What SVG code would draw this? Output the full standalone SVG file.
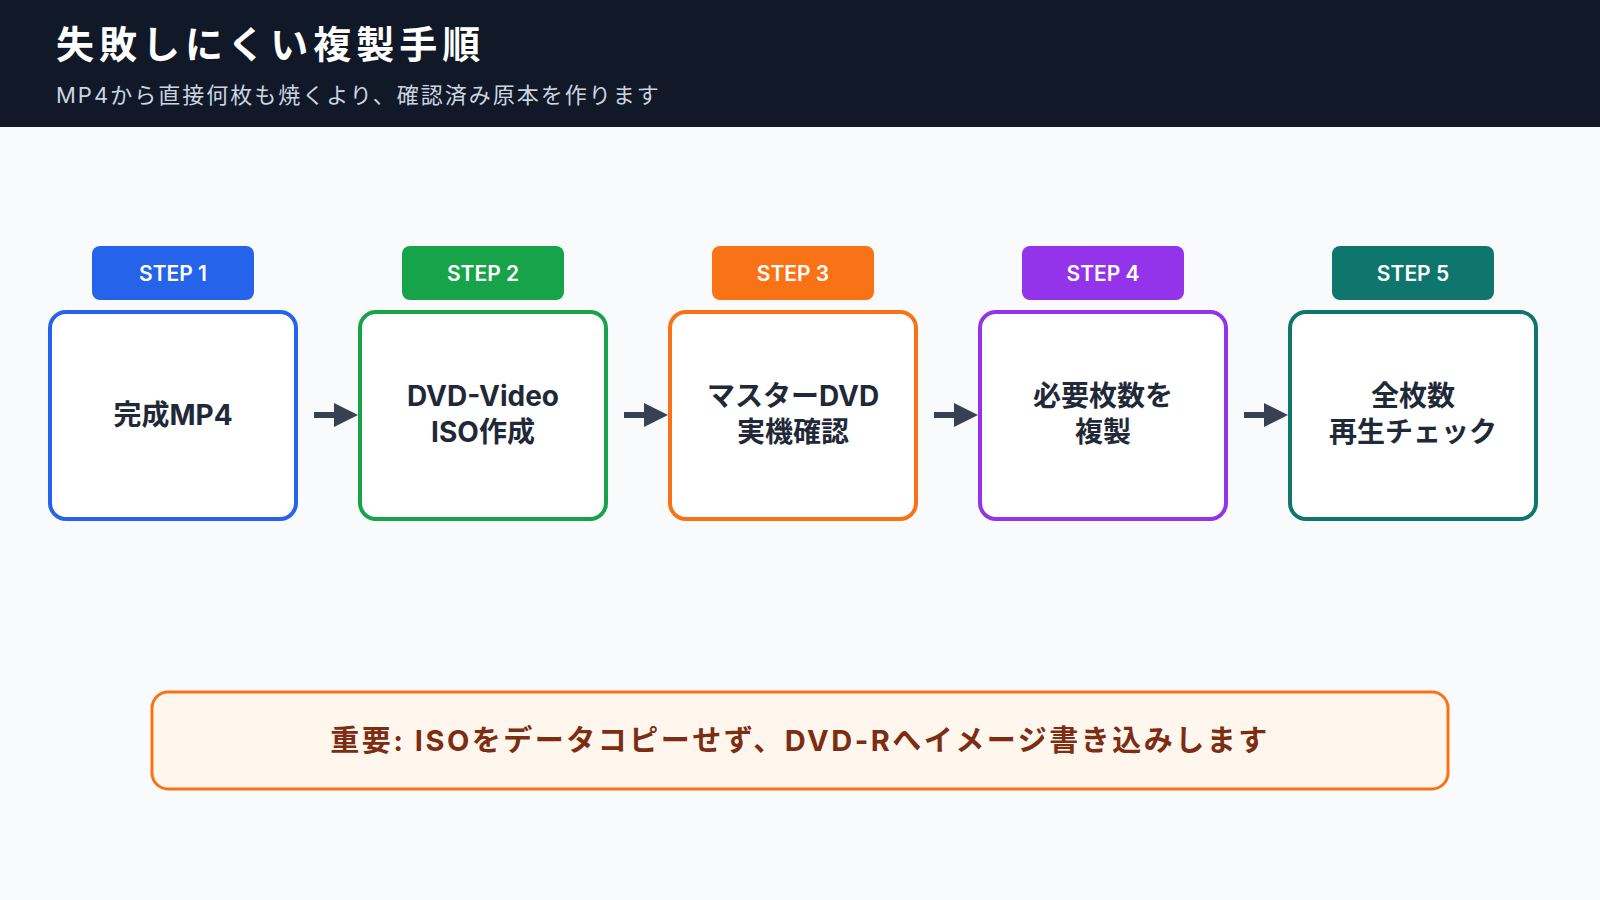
<svg xmlns="http://www.w3.org/2000/svg" width="1600" height="900" viewBox="0 0 1600 900">
<defs>
<style>
text{font-family:"Inter","Noto Sans CJK JP","Noto Sans",sans-serif}
.badge text{fill:#fff;font-size:21px;font-weight:600;text-anchor:middle}
.box{fill:#fff;stroke-width:4}
.lbl{fill:#1f2937;font-size:28px;font-weight:700;text-anchor:middle}
.con{stroke:#374151;stroke-width:6;fill:none}
</style>
<marker id="ah" markerWidth="4" markerHeight="4" refX="2" refY="2" orient="auto" markerUnits="strokeWidth"><path d="M0,0L4,2L0,4Z" fill="#374151"/></marker>
</defs>
<rect width="1600" height="900" fill="#f8fafc"/>
<rect width="1600" height="127" fill="#111827"/>
<text x="56" y="58" font-size="38" font-weight="700" fill="#fff" letter-spacing="5">失敗しにくい複製手順</text>
<text x="56" y="103" font-size="22" fill="#cbd5e1" letter-spacing="2">MP4から直接何枚も焼くより、確認済み原本を作ります</text>
<g id="step1"><rect x="92" y="246" width="162" height="54" rx="8" fill="#2563eb"/><g class="badge"><text x="173" y="281">STEP 1</text></g><rect class="box" x="50" y="312" width="246" height="207" rx="16" stroke="#2563eb"/><text class="lbl" x="173" y="425">完成MP4</text></g>
<g id="step2"><rect x="402" y="246" width="162" height="54" rx="8" fill="#16a34a"/><g class="badge"><text x="483" y="281">STEP 2</text></g><rect class="box" x="360" y="312" width="246" height="207" rx="16" stroke="#16a34a"/><text class="lbl" x="483" y="406">DVD-Video</text><text class="lbl" x="483" y="442">ISO作成</text></g>
<g id="step3"><rect x="712" y="246" width="162" height="54" rx="8" fill="#f97316"/><g class="badge"><text x="793" y="281">STEP 3</text></g><rect class="box" x="670" y="312" width="246" height="207" rx="16" stroke="#f97316"/><text class="lbl" x="793" y="406">マスターDVD</text><text class="lbl" x="793" y="442">実機確認</text></g>
<g id="step4"><rect x="1022" y="246" width="162" height="54" rx="8" fill="#9333ea"/><g class="badge"><text x="1103" y="281">STEP 4</text></g><rect class="box" x="980" y="312" width="246" height="207" rx="16" stroke="#9333ea"/><text class="lbl" x="1103" y="406">必要枚数を</text><text class="lbl" x="1103" y="442">複製</text></g>
<g id="step5"><rect x="1332" y="246" width="162" height="54" rx="8" fill="#0f766e"/><g class="badge"><text x="1413" y="281">STEP 5</text></g><rect class="box" x="1290" y="312" width="246" height="207" rx="16" stroke="#0f766e"/><text class="lbl" x="1413" y="406">全枚数</text><text class="lbl" x="1413" y="442">再生チェック</text></g>
<g id="connectors">
<line class="con" x1="314" y1="415" x2="346" y2="415" marker-end="url(#ah)"/>
<line class="con" x1="624" y1="415" x2="656" y2="415" marker-end="url(#ah)"/>
<line class="con" x1="934" y1="415" x2="966" y2="415" marker-end="url(#ah)"/>
<line class="con" x1="1244" y1="415" x2="1276" y2="415" marker-end="url(#ah)"/>
</g>
<g id="note"><rect x="152" y="692" width="1296" height="97" rx="16" fill="#fff7ed" stroke="#f97316" stroke-width="3"/><text x="800" y="751" font-size="29" font-weight="700" fill="#7c2d12" text-anchor="middle" letter-spacing="2.5">重要: ISOをデータコピーせず、DVD-Rへイメージ書き込みします</text></g>
</svg>
